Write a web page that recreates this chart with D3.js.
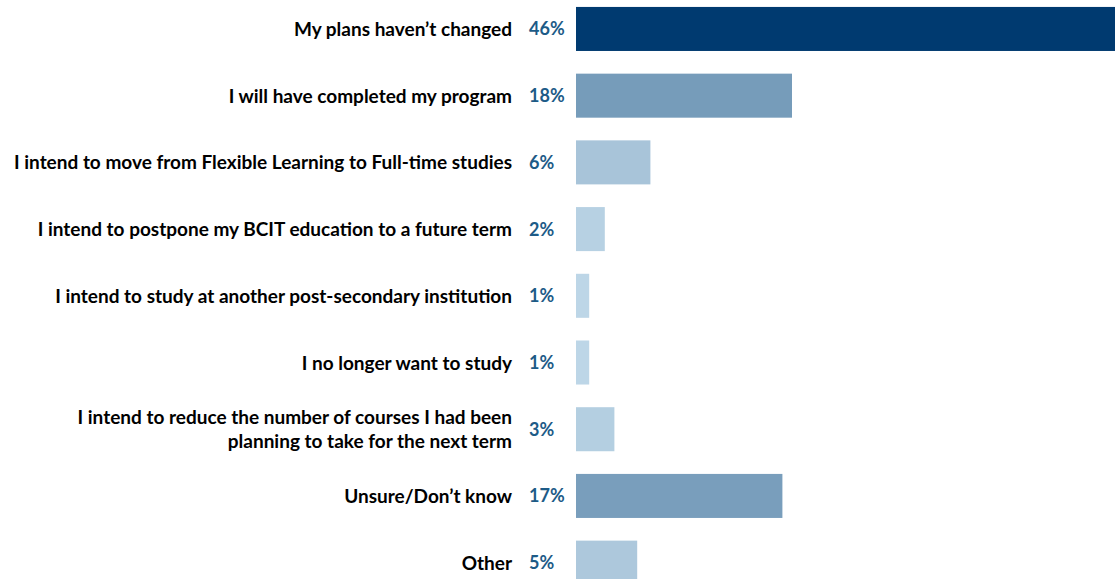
<!DOCTYPE html>
<html>
<head>
<meta charset="utf-8">
<script src="https://cdn.jsdelivr.net/npm/d3@7"></script>
<style>
  html, body { margin: 0; padding: 0; background: #fff; overflow: hidden; }
  text { font-family: Lato, "Open Sans", sans-serif; font-weight: bold; }
</style>
</head>
<body>
<div id="graph"></div>
<script>
const width = 1115
const height = 579

// data
const categories = [
  ['My plans haven\u2019t changed'],
  ['I will have completed my program'],
  ['I intend to move from Flexible Learning to Full-time studies'],
  ['I intend to postpone my BCIT education to a future term'],
  ['I intend to study at another post-secondary institution'],
  ['I no longer want to study'],
  ['I intend to reduce the number of courses I had been', 'planning to take for the next term'],
  ['Unsure/Don\u2019t know'],
  ['Other']
]
const values = [46, 18.0, 6.2, 2.4, 1.1, 1.1, 3.2, 17.2, 5.1]
const labels = ['46%', '18%', '6%', '2%', '1%', '1%', '3%', '17%', '5%']

const rows = categories.map((c, i) => ({ id: i, lines: c, value: values[i], label: labels[i] }))

const svg = d3.select('#graph').append('svg')
  .attr('width', width)
  .attr('height', height)

const x0 = 576
const xScale = d3.scaleLinear().domain([0, 1]).range([x0, x0 + 12])
const yScale = d3.scaleBand()
  .domain(rows.map(d => d.id))
  .range([-4.4, 596])
  .paddingInner(0.34)
  .paddingOuter(0.17)

const color = d3.scaleLinear()
  .domain([1, 6, 17, 46])
  .range(['#bdd6e7', '#a9c5da', '#7a9fbd', '#003a70'])

svg.selectAll('rect.bar').data(rows).join('rect')
  .attr('class', 'bar')
  .attr('x', xScale(0))
  .attr('y', d => yScale(d.id))
  .attr('width', d => xScale(d.value) - xScale(0))
  .attr('height', yScale.bandwidth())
  .attr('fill', d => color(d.value))

// percent labels
svg.selectAll('text.pct').data(rows).join('text')
  .attr('class', 'pct')
  .attr('x', 529)
  .attr('y', d => yScale(d.id) + yScale.bandwidth() / 2)
  .attr('dy', '0.36em')
  .attr('fill', '#1d5b87')
  .style('font-size', '18px')
  .text(d => d.label)

// category labels
const cat = svg.selectAll('text.cat').data(rows).join('text')
  .attr('class', 'cat')
  .attr('text-anchor', 'end')
  .attr('fill', '#000')
  .style('font-size', '19px')
  .attr('y', d => yScale(d.id) + yScale.bandwidth() / 2)

cat.selectAll('tspan').data(d => d.lines.map((t, i) => ({ t, i, n: d.lines.length })))
  .join('tspan')
  .attr('x', 512)
  .attr('dy', d => d.i === 0 ? (7 - (d.n - 1) * 12) : 24)
  .text(d => d.t)
</script>
</body>
</html>
